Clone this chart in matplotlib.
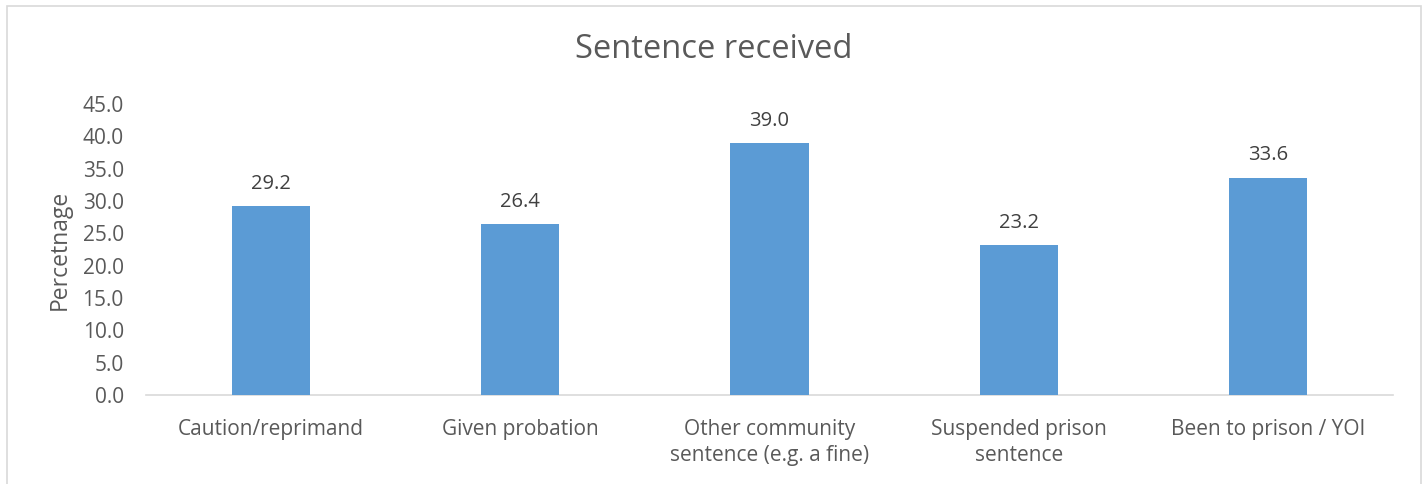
import matplotlib
matplotlib.use("Agg")
import matplotlib.pyplot as plt
from matplotlib.patches import Rectangle

categories = ["Caution/reprimand", "Given probation", "Other community\nsentence (e.g. a fine)",
              "Suspended prison\nsentence", "Been to prison / YOI"]
values = [29.2, 26.4, 39.0, 23.2, 33.6]
yticks = [0, 5, 10, 15, 20, 25, 30, 35, 40, 45]

plt.rcParams['font.family'] = ['Open Sans', 'DejaVu Sans']
txt = '#595959'

fig = plt.figure(figsize=(14.28, 4.84), dpi=100)
fig.patches.append(Rectangle((7/1428, -0.1), (1421-7)/1428, 1.1 - 6/484, transform=fig.transFigure,
                             fill=False, edgecolor='#D9D9D9', linewidth=1.2))
ax = fig.add_axes([146/1428, 1-395/484, (1393-146)/1428, (395-104)/484])
x = range(len(categories))
ax.bar(x, values, width=0.313, color='#5B9BD5', zorder=3)
for xi, v in zip(x, values):
    ax.annotate(f"{v:.1f}", (xi, v), xytext=(0, 16), textcoords='offset points',
                ha='center', va='center', fontsize=14.5, color='#404040')
ax.set_xlim(-0.5, len(categories) - 0.5)
ax.set_ylim(0, 45)
ax.set_yticks(yticks)
ax.set_yticklabels([f"{t:.1f}" for t in yticks])
ax.set_xticks(list(x))
ax.set_xticklabels(categories, linespacing=1.35)
ax.tick_params(axis='both', length=0, labelsize=15, colors=txt)
ax.tick_params(axis='x', pad=17)
ax.tick_params(axis='y', pad=16)
for s in ['top', 'right', 'left']:
    ax.spines[s].set_visible(False)
ax.spines['bottom'].set_color('#D9D9D9')
ax.spines['bottom'].set_linewidth(1.2)
ax.set_ylabel("Percetnage", fontsize=16.5, color=txt, labelpad=8)
fig.text(0.5, 1-50/484, "Sentence received", ha='center', va='center', fontsize=23.5, color=txt)
fig.savefig("out.png", dpi=100)
